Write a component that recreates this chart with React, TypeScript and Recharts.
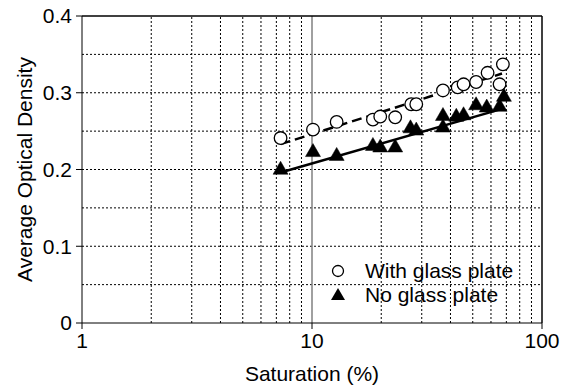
import React from 'react';
import {
  ComposedChart,
  XAxis,
  YAxis,
  Scatter,
  Line,
  ReferenceLine,
} from 'recharts';

// Saturation (%) and average optical density readings
const withGlassX = [7.3, 10.1, 12.8, 18.4, 19.8, 23, 27, 28.4, 37.1, 43, 45.6, 51.7, 58, 65.4, 67.6];
const withGlassY = [0.241, 0.252, 0.262, 0.265, 0.269, 0.268, 0.285, 0.285, 0.303, 0.307, 0.311, 0.314, 0.326, 0.311, 0.337];

const noGlassX = [7.3, 10.1, 12.8, 18.4, 19.8, 23, 26.8, 28.4, 37.1, 37.1, 42.4, 45.6, 51.7, 57.5, 65.4, 68.3];
const noGlassY = [0.201, 0.224, 0.219, 0.232, 0.23, 0.23, 0.255, 0.252, 0.271, 0.256, 0.27, 0.272, 0.285, 0.282, 0.283, 0.296];

// Trend line end points
const withFitX = [7.3, 67];
const withFitY = [0.233, 0.325];
const noFitX = [7.3, 67];
const noFitY = [0.196, 0.279];

// Axis ticks and grid positions
const xTicks = [1, 10, 100];
const yTicks = [0, 0.1, 0.2, 0.3, 0.4];
const xMinorGrid = [2, 3, 4, 5, 6, 7, 8, 9, 20, 30, 40, 50, 60, 70, 80, 90];
const yGrid = [0.05, 0.1, 0.15, 0.2, 0.25, 0.3, 0.35];

const legendItems = ['With glass plate', 'No glass plate'];

const zip = (xs: number[], ys: number[]) => xs.map((x, i) => ({ x, y: ys[i] }));

const withGlass = zip(withGlassX, withGlassY);
const noGlass = zip(noGlassX, noGlassY);
const withFit = zip(withFitX, withFitY);
const noFit = zip(noFitX, noFitY);

const FONT = '"Liberation Sans", Arial, sans-serif';
const FS = 21;

const CircleMark = (props: any) => {
  const { cx, cy } = props;
  if (cx == null || cy == null) return null;
  return <circle cx={cx} cy={cy} r={6.3} fill="#fff" stroke="#000" strokeWidth={1.3} />;
};

const TriangleMark = (props: any) => {
  const { cx, cy } = props;
  if (cx == null || cy == null) return null;
  return (
    <polygon
      points={`${cx},${cy - 7.5} ${cx - 7.5},${cy + 5.5} ${cx + 7.5},${cy + 5.5}`}
      fill="#000"
      stroke="#000"
      strokeWidth={0.5}
    />
  );
};

// Legend drawn over the lower right of the plot area
const LegendBox = () => (
  <div style={{ position: 'absolute', left: 328, top: 259, fontFamily: FONT, fontSize: FS, color: '#000' }}>
    {legendItems.map((name, i) => (
      <div key={name} style={{ display: 'flex', alignItems: 'center', height: 24 }}>
        <svg width={20} height={20} style={{ marginRight: 17 }}>
          {i === 0 ? (
            <circle cx={10} cy={10} r={5.5} fill="#fff" stroke="#000" strokeWidth={1.3} />
          ) : (
            <polygon points="10,3 3,15 17,15" fill="#000" />
          )}
        </svg>
        <span style={{ lineHeight: '24px' }}>{name}</span>
      </div>
    ))}
  </div>
);

export default function App() {
  return (
    <div style={{ position: 'absolute', left: 0, top: 0, width: 565, height: 387, background: '#fff' }}>
      <ComposedChart
        width={565}
        height={387}
        margin={{ top: 16, right: 23, bottom: 0, left: 0 }}
        style={{ fontFamily: FONT }}
      >
        <XAxis
          type="number"
          dataKey="x"
          scale="log"
          domain={[1, 100]}
          ticks={xTicks}
          allowDataOverflow
          height={64}
          tickSize={6}
          tickMargin={4}
          stroke="#000"
          tick={{ fill: '#000', fontSize: FS, fontFamily: FONT }}
          label={{ value: 'Saturation (%)', position: 'insideBottom', offset: 6, fill: '#000', fontSize: FS, fontFamily: FONT }}
        />
        <YAxis
          type="number"
          dataKey="y"
          domain={[0, 0.4]}
          ticks={yTicks}
          width={82}
          tickSize={6}
          tickMargin={4}
          stroke="#000"
          tickFormatter={(v: number) => (v === 0 ? '0' : v.toFixed(1))}
          tick={{ fill: '#000', fontSize: FS, fontFamily: FONT }}
          label={{ value: 'Average Optical Density', angle: -90, position: 'center', dx: -16, fill: '#000', fontSize: FS, fontFamily: FONT }}
        />

        {xMinorGrid.map((v) => (
          <ReferenceLine key={`vx${v}`} x={v} stroke="#000" strokeDasharray="2 2" strokeWidth={1} />
        ))}
        {yGrid.map((v) => (
          <ReferenceLine key={`hy${v}`} y={v} stroke="#000" strokeDasharray="2 2" strokeWidth={1} />
        ))}
        <ReferenceLine x={10} stroke="#808080" strokeWidth={1.5} />
        <ReferenceLine y={0.4} stroke="#000" strokeWidth={1.5} />
        <ReferenceLine x={100} stroke="#000" strokeWidth={1.5} />

        <Line
          data={withFit}
          dataKey="y"
          stroke="#000"
          strokeWidth={2.5}
          strokeDasharray="10 5"
          dot={false}
          activeDot={false}
          isAnimationActive={false}
          legendType="none"
        />
        <Line
          data={noFit}
          dataKey="y"
          stroke="#000"
          strokeWidth={2.5}
          dot={false}
          activeDot={false}
          isAnimationActive={false}
          legendType="none"
        />
        <Scatter data={withGlass} shape={<CircleMark />} isAnimationActive={false} name={legendItems[0]} />
        <Scatter data={noGlass} shape={<TriangleMark />} isAnimationActive={false} name={legendItems[1]} />
      </ComposedChart>
      <LegendBox />
    </div>
  );
}
